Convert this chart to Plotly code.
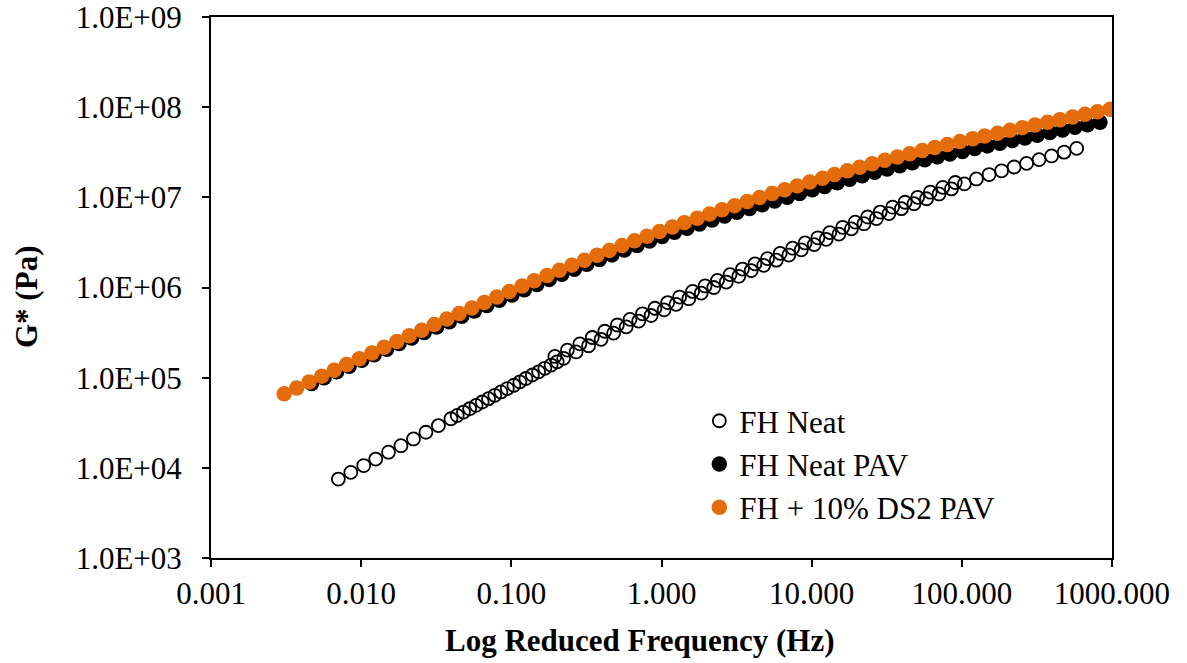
import plotly.graph_objects as go

# Master curves: complex shear modulus G* (Pa) vs reduced frequency (Hz)

# FH Neat
freq_neat = [
    7.05e-3, 8.53e-3,
    1.04e-2, 1.25e-2, 1.52e-2, 1.84e-2, 2.23e-2, 2.70e-2, 3.27e-2, 3.96e-2, 4.80e-2, 5.82e-2, 7.05e-2, 8.53e-2,
    0.104, 0.125, 0.152, 0.184, 0.223, 0.270, 0.327, 0.396, 0.480, 0.582, 0.705, 0.853,
    1.04, 1.25, 1.52, 1.84, 2.23, 2.70, 3.27, 3.96, 4.80, 5.82, 7.05, 8.53,
    10.4, 12.5, 15.2, 18.4, 22.3, 27.0, 32.7, 39.6, 48.0, 58.2, 70.5, 85.3,
    104, 125, 152, 184, 223, 270, 327, 396, 480, 582,
    # overlapping sweeps
    4.36e-2, 5.28e-2, 6.40e-2, 7.76e-2, 9.40e-2, 0.114, 0.138, 0.167, 0.202,
    0.195, 0.236, 0.286, 0.346, 0.419, 0.508, 0.617, 0.747, 0.904,
    1.10, 1.32, 1.61, 1.95, 2.36, 2.86, 3.46, 4.19, 5.08, 6.17, 7.47, 9.04,
    11.0, 13.2, 16.1, 19.5, 23.6, 28.6, 34.6, 41.9, 50.8, 61.7, 74.7, 90.4,
]
g_neat = [
    7.50e3, 8.90e3,
    1.06e4, 1.25e4, 1.49e4, 1.76e4, 2.09e4, 2.48e4, 2.94e4, 3.50e4, 4.15e4, 4.93e4, 5.85e4, 6.94e4,
    8.24e4, 9.79e4, 1.16e5, 1.38e5, 1.64e5, 1.93e5, 2.26e5, 2.66e5, 3.12e5, 3.66e5, 4.24e5, 4.89e5,
    5.65e5, 6.51e5, 7.51e5, 8.67e5, 1.00e6, 1.15e6, 1.33e6, 1.54e6, 1.76e6, 2.01e6, 2.29e6, 2.62e6,
    2.99e6, 3.42e6, 3.91e6, 4.47e6, 5.10e6, 5.82e6, 6.60e6, 7.49e6, 8.50e6, 9.64e6, 1.09e7, 1.24e7,
    1.41e7, 1.60e7, 1.79e7, 1.97e7, 2.17e7, 2.38e7, 2.62e7, 2.88e7, 3.17e7, 3.49e7,
    3.81e4, 4.52e4, 5.37e4, 6.37e4, 7.57e4, 8.98e4, 1.07e5, 1.27e5, 1.50e5,
    1.72e5, 2.02e5, 2.37e5, 2.79e5, 3.27e5, 3.84e5, 4.43e5, 5.11e5, 5.89e5,
    6.80e5, 7.84e5, 9.05e5, 1.04e6, 1.20e6, 1.39e6, 1.60e6, 1.83e6, 2.09e6, 2.39e6, 2.73e6, 3.12e6,
    3.56e6, 4.07e6, 4.65e6, 5.31e6, 6.05e6, 6.86e6, 7.78e6, 8.82e6, 1.00e7, 1.14e7, 1.29e7, 1.46e7,
]

# FH Neat PAV
freq_pav = [
    4.68e-3, 5.66e-3, 6.87e-3, 8.32e-3,
    1.01e-2, 1.22e-2, 1.48e-2, 1.79e-2, 2.17e-2, 2.63e-2, 3.18e-2, 3.86e-2, 4.68e-2, 5.66e-2, 6.87e-2, 8.32e-2,
    0.101, 0.122, 0.148, 0.179, 0.217, 0.263, 0.318, 0.386, 0.468, 0.566, 0.687, 0.832,
    1.01, 1.22, 1.48, 1.79, 2.17, 2.63, 3.18, 3.86, 4.68, 5.66, 6.87, 8.32,
    10.1, 12.2, 14.8, 17.9, 21.7, 26.3, 31.8, 38.6, 46.8, 56.6, 68.7, 83.2,
    101, 122, 148, 179, 217, 263, 318, 386, 468, 566, 687, 832,
]
g_pav = [
    8.59e4, 9.98e4, 1.16e5, 1.34e5,
    1.56e5, 1.80e5, 2.07e5, 2.39e5, 2.75e5, 3.16e5, 3.64e5, 4.17e5, 4.80e5, 5.50e5, 6.30e5, 7.22e5,
    8.26e5, 9.46e5, 1.08e6, 1.23e6, 1.40e6, 1.59e6, 1.81e6, 2.04e6, 2.30e6, 2.60e6, 2.92e6, 3.28e6,
    3.67e6, 4.09e6, 4.55e6, 5.06e6, 5.60e6, 6.19e6, 6.83e6, 7.52e6, 8.29e6, 9.12e6, 1.00e7, 1.10e7,
    1.21e7, 1.32e7, 1.45e7, 1.59e7, 1.74e7, 1.90e7, 2.06e7, 2.24e7, 2.42e7, 2.61e7, 2.81e7, 3.02e7,
    3.23e7, 3.47e7, 3.72e7, 3.98e7, 4.26e7, 4.56e7, 4.88e7, 5.23e7, 5.59e7, 5.98e7, 6.39e7, 6.82e7,
]

# FH + 10% DS2 PAV
freq_ds2 = [
    3.07e-3, 3.72e-3, 4.50e-3, 5.46e-3, 6.61e-3, 8.00e-3, 9.71e-3,
    1.18e-2, 1.42e-2, 1.73e-2, 2.09e-2, 2.53e-2, 3.07e-2, 3.72e-2, 4.50e-2, 5.46e-2, 6.61e-2, 8.00e-2, 9.71e-2,
    0.118, 0.142, 0.173, 0.209, 0.253, 0.307, 0.372, 0.450, 0.546, 0.661, 0.800, 0.971,
    1.18, 1.42, 1.73, 2.09, 2.53, 3.07, 3.72, 4.50, 5.46, 6.61, 8.00, 9.71,
    11.8, 14.2, 17.3, 20.9, 25.3, 30.7, 37.2, 45.0, 54.6, 66.1, 80.0, 97.1,
    118, 142, 173, 209, 253, 307, 372, 450, 546, 661, 800, 971,
]
g_ds2 = [
    6.61e4, 7.69e4, 8.94e4, 1.04e5, 1.21e5, 1.40e5, 1.62e5,
    1.88e5, 2.18e5, 2.52e5, 2.91e5, 3.36e5, 3.88e5, 4.47e5, 5.15e5, 5.93e5, 6.83e5, 7.85e5, 9.02e5,
    1.04e6, 1.19e6, 1.36e6, 1.55e6, 1.77e6, 2.01e6, 2.28e6, 2.58e6, 2.92e6, 3.29e6, 3.71e6, 4.17e6,
    4.68e6, 5.24e6, 5.86e6, 6.53e6, 7.28e6, 8.09e6, 8.97e6, 9.93e6, 1.10e7, 1.21e7, 1.34e7, 1.48e7,
    1.63e7, 1.79e7, 1.97e7, 2.16e7, 2.36e7, 2.58e7, 2.80e7, 3.04e7, 3.30e7, 3.57e7, 3.85e7, 4.15e7,
    4.47e7, 4.80e7, 5.15e7, 5.53e7, 5.93e7, 6.35e7, 6.80e7, 7.27e7, 7.78e7, 8.32e7, 8.88e7, 9.48e7,
]

x_tickvals = [0.001, 0.01, 0.1, 1, 10, 100, 1000]
x_ticktext = ["0.001", "0.010", "0.100", "1.000", "10.000", "100.000", "1000.000"]
y_tickvals = [1e3, 1e4, 1e5, 1e6, 1e7, 1e8, 1e9]
y_ticktext = ["1.0E+03", "1.0E+04", "1.0E+05", "1.0E+06", "1.0E+07", "1.0E+08", "1.0E+09"]

FONT = "Liberation Serif, Times New Roman, serif"
ORANGE = "#E46C0A"

fig = go.Figure()
fig.add_trace(go.Scatter(
    x=freq_neat, y=g_neat, mode="markers", name="FH Neat",
    marker=dict(symbol="circle-open", size=13, color="black", line=dict(width=1.8)),
))
fig.add_trace(go.Scatter(
    x=freq_pav, y=g_pav, mode="markers", name="FH Neat PAV",
    marker=dict(symbol="circle", size=15.5, color="black"),
))
fig.add_trace(go.Scatter(
    x=freq_ds2, y=g_ds2, mode="markers", name="FH + 10% DS2 PAV",
    marker=dict(symbol="circle", size=15.5, color=ORANGE),
))

axis_common = dict(
    showgrid=False, zeroline=False,
    showline=True, linecolor="black", linewidth=2, mirror=True,
    ticks="outside", ticklen=7, tickwidth=2, tickcolor="black",
    tickfont=dict(family=FONT, size=31, color="black"),
    ticklabeloverflow="allow", automargin=False,
)

fig.update_xaxes(type="log", range=[-3.0001, 3.0001], tickmode="array",
                 tickvals=x_tickvals, ticktext=x_ticktext, **axis_common)
fig.update_yaxes(type="log", range=[2.9999, 9.0001], tickmode="array",
                 tickvals=y_tickvals, ticktext=y_ticktext,
                 ticklabelstandoff=14, **axis_common)

fig.add_annotation(text="<b>Log Reduced Frequency (Hz)</b>", xref="paper", yref="paper",
                   x=0.476, y=-0.152, showarrow=False, xanchor="center", yanchor="middle",
                   font=dict(family=FONT, size=31, color="black"))
fig.add_annotation(text="<b>G* (Pa)</b>", xref="paper", yref="paper",
                   x=-0.205, y=0.483, showarrow=False, textangle=-90,
                   xanchor="center", yanchor="middle",
                   font=dict(family=FONT, size=31, color="black"))

fig.update_layout(
    width=1187, height=663,
    margin=dict(l=211, r=75, t=17, b=105),
    paper_bgcolor="white", plot_bgcolor="white",
    showlegend=True,
    legend=dict(x=0.542, y=0.303, xanchor="left", yanchor="top",
                font=dict(family=FONT, size=31, color="black"),
                bgcolor="rgba(0,0,0,0)", borderwidth=0, tracegroupgap=0),
)

fig.write_html("out.html", config={"displayModeBar": False})
